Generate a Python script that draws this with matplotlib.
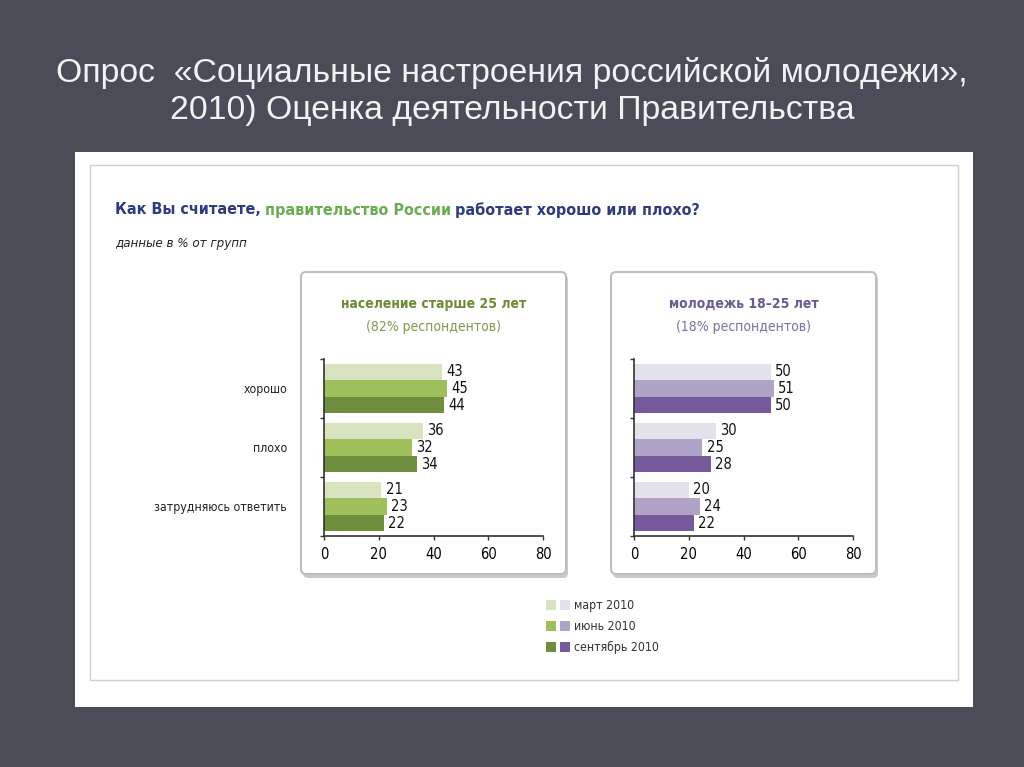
import matplotlib
matplotlib.use("Agg")
import matplotlib.pyplot as plt
from matplotlib.patches import FancyBboxPatch, Rectangle
import numpy as np

W, H = 1024, 767

categories = ["хорошо", "плохо", "затрудняюсь ответить"]
periods = ["март 2010", "июнь 2010", "сентябрь 2010"]
older = [[43, 45, 44], [36, 32, 34], [21, 23, 22]]
youth = [[50, 51, 50], [30, 25, 28], [20, 24, 22]]
xticks = [0, 20, 40, 60, 80]

green = ["#d8e4c0", "#9fbe5c", "#6f8e3d"]
purple = ["#e3e1ea", "#afa3c8", "#765a9c"]

narrow = "DejaVu Sans"
NS = "condensed"

fig = plt.figure(figsize=(W / 100, H / 100), dpi=100)
fig.patch.set_facecolor("#4a4c57")

bg = fig.add_axes([0, 0, 1, 1], zorder=0)
bg.set_xlim(0, W)
bg.set_ylim(H, 0)
bg.axis("off")
bg.set_facecolor("none")

# slide title
bg.text(512, 73, "Опрос  «Социальные настроения российской молодежи»,",
        ha="center", va="center", fontsize=24.3, color="#f2f2f2",
        family="Liberation Sans")
bg.text(512, 110, "2010) Оценка деятельности Правительства",
        ha="center", va="center", fontsize=24.3, color="#f2f2f2",
        family="Liberation Sans")

# white sheet
bg.add_patch(Rectangle((75, 152), 898, 555, facecolor="white", edgecolor="none"))
bg.add_patch(Rectangle((90, 165), 868, 515, facecolor="none", edgecolor="#d0d0d0", lw=1))

# heading in three colours
fig.canvas.draw()
renderer = fig.canvas.get_renderer()
parts = [("Как Вы считаете,", "#2f3b7c"), ("правительство России", "#6aad50"),
         ("работает хорошо или плохо?", "#2f3b7c")]
x = 115
for txt, col in parts:
    t = bg.text(x, 210, txt, ha="left", va="center", fontsize=11.5, color=col,
                family=narrow, fontstretch=NS, fontweight="bold")
    bb = t.get_window_extent(renderer)
    x += bb.width + 4

bg.text(115, 243, "данные в % от групп", ha="left", va="center", fontsize=9.5,
        color="#222222", family=narrow, fontstretch=NS, style="italic")

# panel boxes
for x0, head, sub, hcol, scol in [
    (301, "население старше 25 лет", "(82% респондентов)", "#6d8a36", "#7f9a4c"),
    (611, "молодежь 18–25 лет", "(18% респондентов)", "#6b5a94", "#7d6fa2"),
]:
    bg.add_patch(FancyBboxPatch((x0 + 2, 275), 265, 303,
                                boxstyle="round,pad=0,rounding_size=5",
                                facecolor="#c9c9c9", edgecolor="none"))
    bg.add_patch(FancyBboxPatch((x0, 272), 265, 302,
                                boxstyle="round,pad=0,rounding_size=5",
                                facecolor="white", edgecolor="#bdbdbd", lw=1.5))
    bg.text(x0 + 133, 304, head, ha="center", va="center", fontsize=10,
            color=hcol, family=narrow, fontstretch=NS, fontweight="bold")
    bg.text(x0 + 133, 327, sub, ha="center", va="center", fontsize=10,
            color=scol, family=narrow, fontstretch=NS)

# legend
for i, p in enumerate(periods):
    yy = 605 + i * 21
    bg.add_patch(Rectangle((546, yy - 5), 10, 10, facecolor=green[i], edgecolor="none"))
    bg.add_patch(Rectangle((560, yy - 5), 10, 10, facecolor=purple[i], edgecolor="none"))
    bg.text(574, yy, p, ha="left", va="center", fontsize=8.8, color="#333333",
            family=narrow, fontstretch=NS)

bar_h = 0.28


def draw_panel(left_px, data, colors, show_labels):
    ax = fig.add_axes([left_px / W, 1 - 536 / H, 219 / W, 177 / H], zorder=2)
    ax.set_facecolor("none")
    centers = np.arange(len(categories)) + 0.5
    for j in range(3):
        vals = [row[j] for row in data]
        pos = centers + (j - 1) * bar_h
        ax.barh(pos, vals, height=bar_h, color=colors[j], edgecolor="none")
        for p, v in zip(pos, vals):
            ax.text(v + 1.5, p, str(v), ha="left", va="center", fontsize=10.5,
                    color="#111111", family=narrow, fontstretch=NS)
    ax.set_xlim(0, 80)
    ax.set_ylim(3, 0)
    ax.set_xticks(xticks)
    ax.set_xticklabels([str(v) for v in xticks], family=narrow, fontstretch=NS,
                       fontsize=10.5)
    ax.set_yticks([0, 1, 2, 3])
    ax.set_yticklabels([])
    ax.tick_params(axis="both", length=3, width=1, color="#333333")
    ax.tick_params(axis="x", pad=5)
    if show_labels:
        ax.set_yticks(centers, minor=True)
        ax.set_yticklabels(categories, minor=True, family=narrow, fontstretch=NS,
                           fontsize=8.8, color="#222222")
        ax.tick_params(axis="y", which="minor", length=0, pad=26.5)
    for s in ["top", "right"]:
        ax.spines[s].set_visible(False)
    for s in ["left", "bottom"]:
        ax.spines[s].set_color("#333333")
        ax.spines[s].set_linewidth(1.2)
    return ax


draw_panel(324, older, green, True)
draw_panel(634, youth, purple, False)

fig.savefig("out.png", dpi=100, facecolor=fig.get_facecolor())
